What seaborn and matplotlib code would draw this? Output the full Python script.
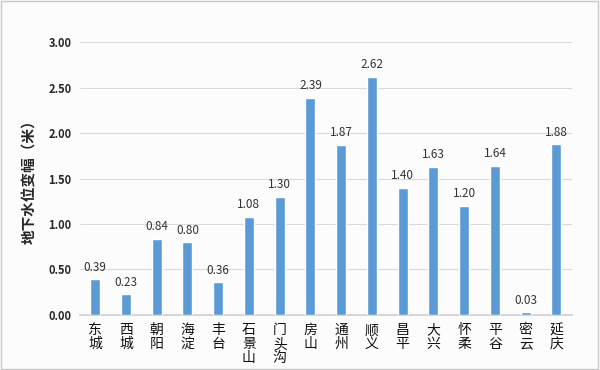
import matplotlib
matplotlib.use("Agg")
import matplotlib.pyplot as plt
import seaborn as sns
import pandas as pd
from matplotlib.patches import Rectangle

districts = ["东城", "西城", "朝阳", "海淀", "丰台", "石景山", "门头沟", "房山",
             "通州", "顺义", "昌平", "大兴", "怀柔", "平谷", "密云", "延庆"]
values = [0.39, 0.23, 0.84, 0.80, 0.36, 1.08, 1.30, 2.39,
          1.87, 2.62, 1.40, 1.63, 1.20, 1.64, 0.03, 1.88]
yticks = [0.0, 0.5, 1.0, 1.5, 2.0, 2.5, 3.0]

sns.set_theme(style="white")
plt.rcParams['font.family'] = ['Noto Sans CJK SC', 'DejaVu Sans']

df = pd.DataFrame({"district": districts, "value": values})

fig = plt.figure(figsize=(6, 3.7), dpi=100, facecolor="#fcfcfc")
ax = fig.add_axes([0.133, 0.149, 0.82, 0.737])
ax.set_facecolor("#fcfcfc")

sns.barplot(data=df, x="district", y="value", color="#5b9bd5", width=0.33,
            saturation=1, ax=ax, zorder=3)

for i, v in enumerate(values):
    ax.text(i, v + 0.06, f"{v:.2f}", ha="center", va="bottom", fontsize=8.5,
            color="#333333")

ax.set_ylim(0, 3.0)
ax.set_yticks(yticks)
ax.set_yticklabels([f"{t:.2f}" for t in yticks], fontsize=8, fontweight="bold")
ax.set_xticks(range(len(districts)))
ax.set_xticklabels(["\n".join(d) for d in districts], fontsize=10,
                   fontweight="medium", linespacing=1.0, va="top", color="#111111")
ax.set_xlim(-0.5, len(districts) - 0.5)
ax.set_xlabel("")
ax.set_ylabel("地下水位变幅（米）", fontsize=10.5, fontweight="bold", labelpad=8)
ax.yaxis.grid(True, color="#d9d9d9", linewidth=0.8, zorder=0)
ax.xaxis.grid(False)
for s in ["top", "right", "left"]:
    ax.spines[s].set_visible(False)
ax.spines["bottom"].set_color("#d0d0d0")
ax.tick_params(axis="both", length=0, pad=6)
ax.tick_params(axis="x", pad=6)

fig.patches.append(Rectangle((0.002, 0.003), 0.995, 0.994, transform=fig.transFigure,
                             fill=False, edgecolor="#c8c8c8", linewidth=1))

fig.savefig("out.png", dpi=100, facecolor=fig.get_facecolor())
